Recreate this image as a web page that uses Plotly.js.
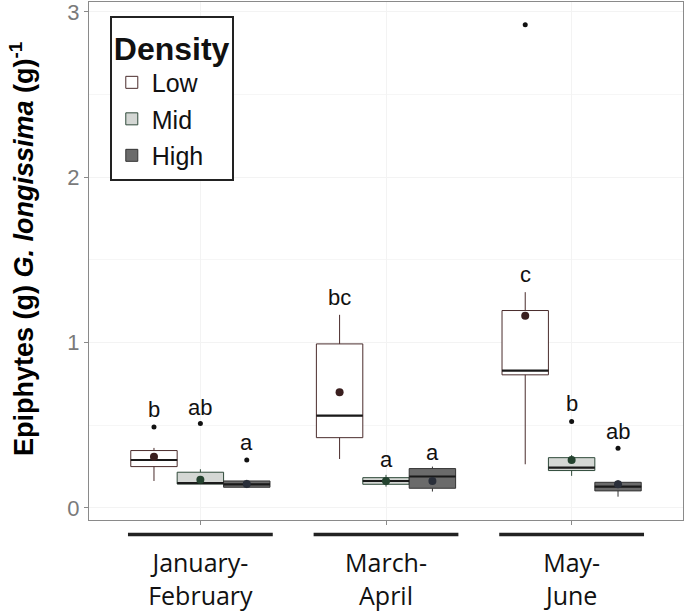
<!DOCTYPE html>
<html>
<head>
<meta charset="utf-8">
<script src="https://cdn.plot.ly/plotly-3.0.1.min.js"></script>
<style>html,body{margin:0;padding:0;background:#fff;}#chart{width:685px;height:614px;}</style>
</head>
<body>
<div id="chart"></div>
<script>
// ---- data ----
const periods = ["January-<br>February", "March-<br>April", "May-<br>June"];
const densities = ["Low", "Mid", "High"];
// each row: one density (Low, Mid, High); columns: periods
const q1Vals     = [[0.250, 0.425, 0.805], [0.145, 0.143, 0.226], [0.125, 0.119, 0.103]];
const medianVals = [[0.290, 0.558, 0.831], [0.150, 0.163, 0.244], [0.143, 0.190, 0.129]];
const q3Vals     = [[0.347, 0.992, 1.194], [0.216, 0.183, 0.304], [0.163, 0.238, 0.155]];
const lowerVals  = [[0.163, 0.296, 0.264], [0.145, 0.129, 0.194], [0.120, 0.099, 0.068]];
const upperVals  = [[0.363, 1.168, 1.305], [0.234, 0.200, 0.320], [0.170, 0.250, 0.169]];
const meanVals   = [[0.310, 0.700, 1.163], [0.170, 0.163, 0.290], [0.145, 0.163, 0.143]];
const outlierVals= [[0.490, null, 2.922], [0.510, null, 0.522], [0.290, null, 0.361]];
const letterLabels = [["b", "bc", "c"], ["ab", "a", "b"], ["a", "a", "ab"]];
const letterY      = [[0.593, 1.270, 1.410], [0.605, 0.290, 0.629], [0.393, 0.333, 0.460]];
const yTicks = [0, 1, 2, 3];
const yTitle = "<b>Epiphytes (g) <i>G. longissima</i> (g)<sup>-1</sup></b>";

// ---- styles ----
const fills = ["#ffffff", "#d4d7d4", "#6b6b6b"];
const lines = ["#4a2c2c", "#2f4a3a", "#333333"];
const meanColors = ["#3a1f1f", "#24432f", "#2a2f3a"];
const offsets = [-0.25, 0, 0.25];
const boxW = 0.25;
const sans = "Liberation Sans, Arial, sans-serif";

const traces = [];
const px = i => periods.map((_, k) => k + offsets[i]);

densities.forEach((d, i) => {
  traces.push({
    type: "box", name: d, legendgroup: d, x: px(i),
    q1: q1Vals[i], median: medianVals[i], q3: q3Vals[i],
    lowerfence: lowerVals[i], upperfence: upperVals[i],
    width: boxW, whiskerwidth: 0, boxpoints: false,
    fillcolor: fills[i], line: {color: lines[i], width: 1},
    hoverinfo: "skip"
  });
});
// thicker median lines
densities.forEach((d, i) => {
  const xs = [], ys = [];
  px(i).forEach((x, k) => { xs.push(x - boxW / 2, x + boxW / 2, null); ys.push(medianVals[i][k], medianVals[i][k], null); });
  traces.push({type: "scatter", mode: "lines", x: xs, y: ys, showlegend: false,
    line: {color: "#1a1a1a", width: 2.2}, hoverinfo: "skip"});
});
// means
densities.forEach((d, i) => {
  traces.push({type: "scatter", mode: "markers", x: px(i), y: meanVals[i], showlegend: false,
    marker: {color: meanColors[i], size: 8}, hoverinfo: "skip"});
});
// outliers
densities.forEach((d, i) => {
  traces.push({type: "scatter", mode: "markers", x: px(i), y: outlierVals[i], showlegend: false,
    marker: {color: "#111111", size: 5}, hoverinfo: "skip"});
});

const annotations = [];
densities.forEach((d, i) => {
  px(i).forEach((x, k) => {
    annotations.push({x: x, y: letterY[i][k], xref: "x", yref: "y", text: letterLabels[i][k],
      showarrow: false, yanchor: "middle", font: {family: sans, size: 22, color: "#111"}});
  });
});
annotations.push({x: -0.113, y: 0.523, xref: "paper", yref: "paper", text: yTitle, textangle: -90,
  showarrow: false, xanchor: "center", yanchor: "middle", font: {family: sans, size: 27, color: "#000"}});

const shapes = periods.map((_, k) => ({
  type: "line", xref: "x", yref: "paper", x0: k - 0.39, x1: k + 0.39, y0: -0.028, y1: -0.028,
  line: {color: "#222222", width: 3.5}
}));

const layout = {
  width: 685, height: 614,
  margin: {l: 89, r: 2, t: 2, b: 94},
  paper_bgcolor: "#ffffff", plot_bgcolor: "#ffffff",
  showlegend: true,
  legend: {
    x: 0.035, y: 0.973, xanchor: "left", yanchor: "top",
    bgcolor: "#ffffff", bordercolor: "#222222", borderwidth: 2,
    title: {text: "<b>Density</b>", font: {family: sans, size: 32, color: "#111"}},
    font: {family: sans, size: 25, color: "#111"},
    tracegroupgap: 1
  },
  xaxis: {
    range: [-0.6, 2.6], tickmode: "array", tickvals: periods.map((_, k) => k), ticktext: periods,
    showline: true, mirror: true, linecolor: "#8a8a8a", linewidth: 1,
    ticks: "outside", ticklen: 4, tickcolor: "#8a8a8a",
    showgrid: true, gridcolor: "#f3f3f3", zeroline: false,
    ticklabelstandoff: 17,
    tickfont: {family: "Open Sans, sans-serif", size: 25, color: "#111"}
  },
  yaxis: {
    range: [-0.073, 3.06], tickmode: "array", tickvals: yTicks, ticktext: yTicks.map(String),
    showline: true, mirror: true, linecolor: "#8a8a8a", linewidth: 1,
    ticks: "outside", ticklen: 4, tickcolor: "#8a8a8a",
    showgrid: true, gridcolor: "#f3f3f3", zeroline: false,
    minor: {dtick: 0.5, showgrid: true, gridcolor: "#f6f6f6"},
    ticklabeloverflow: "allow",
    tickfont: {family: sans, size: 22, color: "#7a7a7a"}
  },
  annotations: annotations,
  shapes: shapes
};

Plotly.newPlot("chart", traces, layout, {displayModeBar: false, staticPlot: true});
</script>
</body>
</html>
